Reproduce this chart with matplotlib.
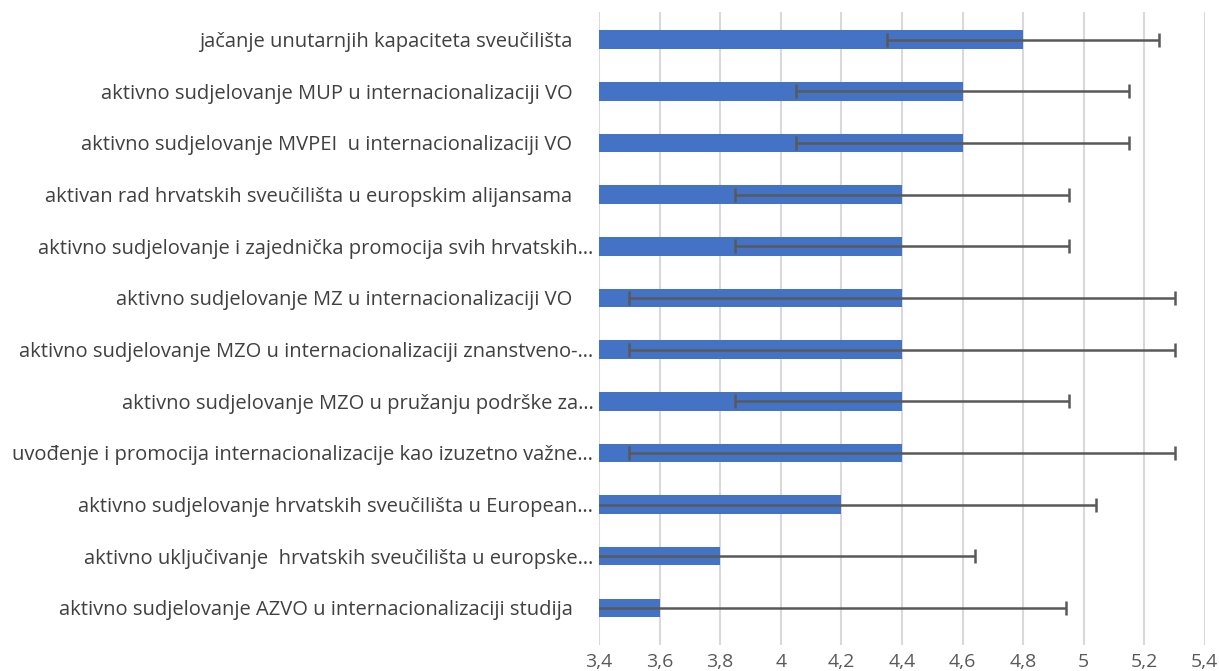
import matplotlib.pyplot as plt
from matplotlib.ticker import FuncFormatter

# kategorije (odozgo prema dolje)
labels = [
    "jačanje unutarnjih kapaciteta sveučilišta    ",
    "aktivno sudjelovanje MUP u internacionalizaciji VO    ",
    "aktivno sudjelovanje MVPEI  u internacionalizaciji VO    ",
    "aktivan rad hrvatskih sveučilišta u europskim alijansama    ",
    "aktivno sudjelovanje i zajednička promocija svih hrvatskih…",
    "aktivno sudjelovanje MZ u internacionalizaciji VO    ",
    "aktivno sudjelovanje MZO u internacionalizaciji znanstveno-…",
    "aktivno sudjelovanje MZO u pružanju podrške za…",
    "uvođenje i promocija internacionalizacije kao izuzetno važne…",
    "aktivno sudjelovanje hrvatskih sveučilišta u European…",
    "aktivno uključivanje  hrvatskih sveučilišta u europske…",
    "aktivno sudjelovanje AZVO u internacionalizaciji studija    ",
]
means = [4.8, 4.6, 4.6, 4.4, 4.4, 4.4, 4.4, 4.4, 4.4, 4.2, 3.8, 3.6]
errs = [0.45, 0.55, 0.55, 0.55, 0.55, 0.9, 0.9, 0.55, 0.9, 0.84, 0.84, 1.34]
ticks = [3.4, 3.6, 3.8, 4.0, 4.2, 4.4, 4.6, 4.8, 5.0, 5.2, 5.4]

plt.rcParams['font.family'] = ['Open Sans', 'DejaVu Sans']

fig = plt.figure(figsize=(12.19, 6.71), dpi=100)
ax = fig.add_axes([0.4914, 0.0387, 0.497, 0.943])

y = list(range(len(labels)))
ax.barh(y, means, height=0.36, color='#4472C4', left=0, zorder=2)
ax.errorbar(means, y, xerr=errs, fmt='none', ecolor='#595959',
            elinewidth=1.8, capsize=5, capthick=1.8, zorder=3)

ax.set_xlim(3.4, 5.4)
ax.set_ylim(11.72, -0.53)
ax.set_xticks(ticks)
ax.xaxis.set_major_formatter(FuncFormatter(lambda v, p: ('%g' % round(v, 1)).replace('.', ',')))
ax.set_yticks(y)
ax.set_yticklabels(labels, fontsize=14.5, color='#404040')
ax.tick_params(axis='x', labelsize=14, colors='#595959', length=0, pad=6)
ax.tick_params(axis='y', length=0, pad=4)
ax.grid(axis='x', color='#D9D9D9', linewidth=1.5, zorder=0)
ax.set_axisbelow(True)
for s in ax.spines.values():
    s.set_visible(False)

fig.savefig('out.png', dpi=100)
